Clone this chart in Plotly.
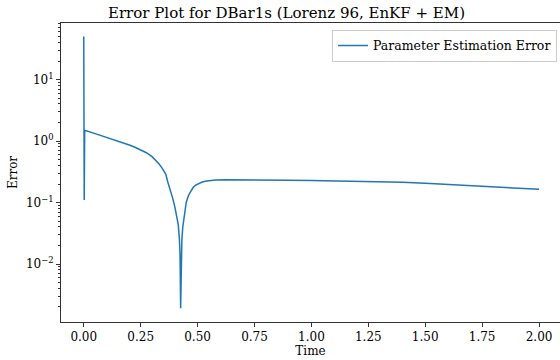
import plotly.graph_objects as go

# Data
time = [0.0, 0.002, 0.004, 0.05, 0.10, 0.15, 0.20, 0.225, 0.25, 0.275, 0.30, 0.315,
        0.33, 0.345, 0.36, 0.37, 0.38, 0.39, 0.40, 0.41, 0.415, 0.42, 0.423, 0.4255,
        0.428, 0.431, 0.435, 0.44, 0.445, 0.45, 0.46, 0.47, 0.48, 0.49, 0.50, 0.52,
        0.54, 0.56, 0.58, 0.62, 0.70, 0.80, 0.90, 1.00, 1.10, 1.20, 1.30, 1.40,
        1.50, 1.60, 1.70, 1.80, 1.90, 2.00]
error = [50.0, 0.11, 1.5, 1.32, 1.15, 1.0, 0.86, 0.79, 0.72, 0.645, 0.556, 0.495,
         0.427, 0.36, 0.29, 0.21, 0.165, 0.12, 0.085, 0.055, 0.044, 0.026, 0.014, 0.0019,
         0.012, 0.025, 0.04, 0.058, 0.08, 0.10, 0.13, 0.155, 0.175, 0.19, 0.20, 0.215,
         0.224, 0.229, 0.232, 0.234, 0.234, 0.234, 0.231, 0.227, 0.224, 0.222, 0.219, 0.213,
         0.205, 0.196, 0.187, 0.179, 0.171, 0.164]

x_tickvals = [0.0, 0.25, 0.5, 0.75, 1.0, 1.25, 1.5, 1.75, 2.0]
x_ticktext = ["0.00", "0.25", "0.50", "0.75", "1.00", "1.25", "1.50", "1.75", "2.00"]
y_tickvals = [0.01, 0.1, 1, 10]
y_ticktext = ["10<sup>\u22122</sup>", "10<sup>\u22121</sup>", "10<sup>0</sup>", "10<sup>1</sup>"]

FONT = "DejaVu Serif"
minor_vals = [m * 10.0 ** e for e in range(-4, 3) for m in range(2, 10)]

fig = go.Figure()
fig.add_trace(go.Scatter(
    x=time, y=error, mode="lines", name="Parameter Estimation Error",
    line=dict(color="#1f77b4", width=1.5),
))

fig.update_layout(
    width=560, height=360,
    margin=dict(l=61, r=0, t=23, b=38),
    paper_bgcolor="white", plot_bgcolor="white",
    font=dict(family=FONT, size=12, color="black"),
    title=dict(text="Error Plot for DBar1s (Lorenz 96, EnKF + EM)",
               x=286.5 / 560, xanchor="center", xref="container",
               y=1 - 13 / 360, yanchor="middle", yref="container",
               font=dict(family=FONT, size=15, color="black")),
    showlegend=True,
    legend=dict(x=0.994, xanchor="right", y=0.977, yanchor="top",
                bgcolor="rgba(255,255,255,0.8)", bordercolor="#cccccc", borderwidth=1,
                font=dict(family=FONT, size=12.5, color="black")),
)

fig.update_xaxes(
    range=[-0.1, 2.092], tickvals=x_tickvals, ticktext=x_ticktext,
    tickfont=dict(family=FONT, size=12, color="black"),
    showgrid=False, zeroline=False,
    showline=True, linecolor="#333333", linewidth=1, mirror=True,
    ticks="outside", ticklen=4, tickcolor="#333333",
    title=dict(text="Time", standoff=1, font=dict(family=FONT, size=12, color="black")),
)
fig.update_yaxes(
    type="log", range=[-2.943, 1.919], tickvals=y_tickvals, ticktext=y_ticktext,
    tickfont=dict(family=FONT, size=12, color="black"),
    showgrid=False, zeroline=False,
    showline=True, linecolor="#333333", linewidth=1, mirror=True,
    ticks="outside", ticklen=4, tickcolor="#333333",
    minor=dict(tickvals=minor_vals, ticks="outside", ticklen=2, tickcolor="#333333", showgrid=False),
    title=dict(text="Error", standoff=5, font=dict(family=FONT, size=12, color="black")),
)

fig.write_html("out.html")
